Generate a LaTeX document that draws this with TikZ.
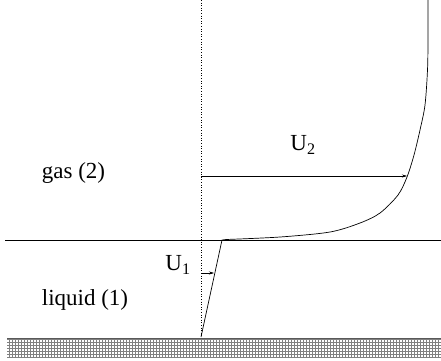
\documentclass[tikz,border=0pt]{standalone}
\usepackage{fontspec}
\setmainfont{Liberation Serif}
\usetikzlibrary{patterns,arrows.meta}
\begin{document}
\begin{tikzpicture}[x=1pt,y=-1pt,
  lbl/.style={font=\fontsize{23}{26}\selectfont, inner sep=0pt},
  prof/.style={line width=0.7pt, black},
  vel/.style={line width=0.5pt, -{Stealth[length=5pt,width=3pt]}}]
\useasboundingbox (0,0) rectangle (441,360);
% wall
\fill[pattern=grid, pattern color=gray] (7,338) rectangle (441,357);
\draw[line width=0.8pt, gray!70!black] (7,338) -- (441,338);
% axis (dotted)
\coordinate (top) at (201,0);
\coordinate (wall) at (201,337);
\draw[dotted, line width=0.6pt] (top) -- (wall);
% interface
\coordinate (iL) at (5,240);
\coordinate (iR) at (441,240);
\draw[line width=0.6pt] (iL) -- (iR);
% liquid profile
\coordinate (s) at (222,240);
\draw[prof] (wall) -- (s);
% gas profile
\draw[prof] (s) -- (226,239.5);
\draw[prof] plot[smooth, tension=0.5] coordinates {(226,239.5) (280,237) (330,232) (360,223) (380,213) (398,195) (407,177) (414,155) (420,130) (425,105) (427.5,70) (428,40) (428,0)};
% velocity arrows
\coordinate (u1a) at (202,273);
\coordinate (u1b) at (214,273);
\draw[vel] (u1a) -- (u1b);
\coordinate (u2a) at (201,176);
\coordinate (u2b) at (407,176);
\draw[vel] (u2a) -- (u2b);
% labels
\node[lbl] (U2) at (303,145) {U\textsubscript{2}};
\node[lbl] (U1) at (178,265) {U\textsubscript{1}};
\node[lbl] (gas) at (73.5,173) {gas (2)};
\node[lbl] (liq) at (85,300) {liquid (1)};
\end{tikzpicture}
\end{document}
